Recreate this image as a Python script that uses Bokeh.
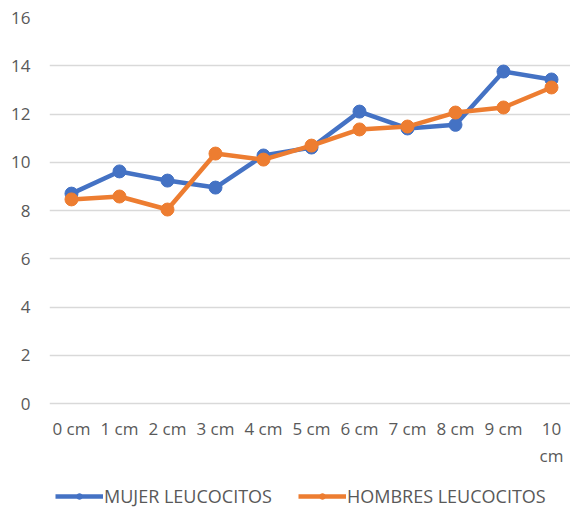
from bokeh.plotting import figure
from bokeh.models import Range1d, FixedTicker, Legend, LegendItem, LinearAxis
from bokeh.embed import file_html
from bokeh.resources import INLINE

categories = ["0 cm", "1 cm", "2 cm", "3 cm", "4 cm", "5 cm", "6 cm", "7 cm", "8 cm", "9 cm", "10 cm"]
mujer = [8.70, 9.62, 9.24, 8.95, 10.28, 10.61, 12.10, 11.40, 11.55, 13.76, 13.43]
hombres = [8.46, 8.58, 8.04, 10.36, 10.11, 10.69, 11.36, 11.48, 12.06, 12.27, 13.10]
y_ticks = [0, 2, 4, 6, 8, 10, 12, 14, 16]

xs = list(range(len(categories)))
FONT = "Open Sans"
GRAY = "#595959"
BLUE = "#4472C4"
ORANGE = "#ED7D31"

# the frame reaches the bottom of the page; the value axis starts at 0 and the
# space below it holds the category labels and the legend
p = figure(frame_width=521, frame_height=493, output_backend="svg", toolbar_location=None,
           x_range=Range1d(-0.458, 10.396), y_range=Range1d(-4.435, 16),
           min_border_left=49, min_border_right=0, min_border_top=17, min_border_bottom=0)
p.outline_line_color = None
p.background_fill_color = "white"

# the last category label wraps onto a second line, as in the reference
first_line = {i: c for i, c in enumerate(categories)}
first_line[len(categories) - 1] = categories[-1].split(" ")[0]
second_line = {len(categories) - 1: categories[-1].split(" ")[1]}

p.yaxis.ticker = FixedTicker(ticks=y_ticks)
p.xaxis.ticker = FixedTicker(ticks=xs)
p.xaxis.major_label_overrides = first_line
p.xaxis.fixed_location = 0
ax2 = LinearAxis(ticker=FixedTicker(ticks=[xs[-1]]), major_label_overrides=second_line,
                 fixed_location=0)
p.add_layout(ax2, "below")
for ax in (p.xaxis[0], ax2, p.yaxis[0]):
    ax.axis_line_color = None
    ax.major_tick_line_color = None
    ax.minor_tick_line_color = None
    ax.major_tick_in = 0
    ax.major_tick_out = 0
    ax.major_label_text_font = FONT
    ax.major_label_text_font_size = "17px"
    ax.major_label_text_color = GRAY
    ax.major_label_text_line_height = 1.0
p.yaxis.major_label_standoff = 19
p.xaxis[0].major_label_standoff = 13
ax2.major_label_standoff = 40
p.xgrid.grid_line_color = None
p.ygrid.ticker = FixedTicker(ticks=y_ticks)
p.ygrid.grid_line_color = "#D9D9D9"
p.ygrid.grid_line_width = 1.3

l1 = p.line(xs, mujer, line_color=BLUE, line_width=4.5)
c1 = p.scatter(xs, mujer, size=13, fill_color=BLUE, line_color=BLUE)
l2 = p.line(xs, hombres, line_color=ORANGE, line_width=4.5)
c2 = p.scatter(xs, hombres, size=13, fill_color=ORANGE, line_color=ORANGE)

legend = Legend(items=[LegendItem(label="MUJER LEUCOCITOS", renderers=[l1, c1]),
                       LegendItem(label="HOMBRES LEUCOCITOS", renderers=[l2, c2])],
                orientation="horizontal", location=(6, 2),
                label_text_font=FONT, label_text_font_size="18px", label_text_color=GRAY,
                label_text_line_height=1.0, label_height=20,
                glyph_width=48, glyph_height=14, label_standoff=1, spacing=26,
                border_line_color=None, background_fill_alpha=0, margin=0, padding=2)
p.add_layout(legend, "center")

open("out.html", "w").write(file_html(p, INLINE))
